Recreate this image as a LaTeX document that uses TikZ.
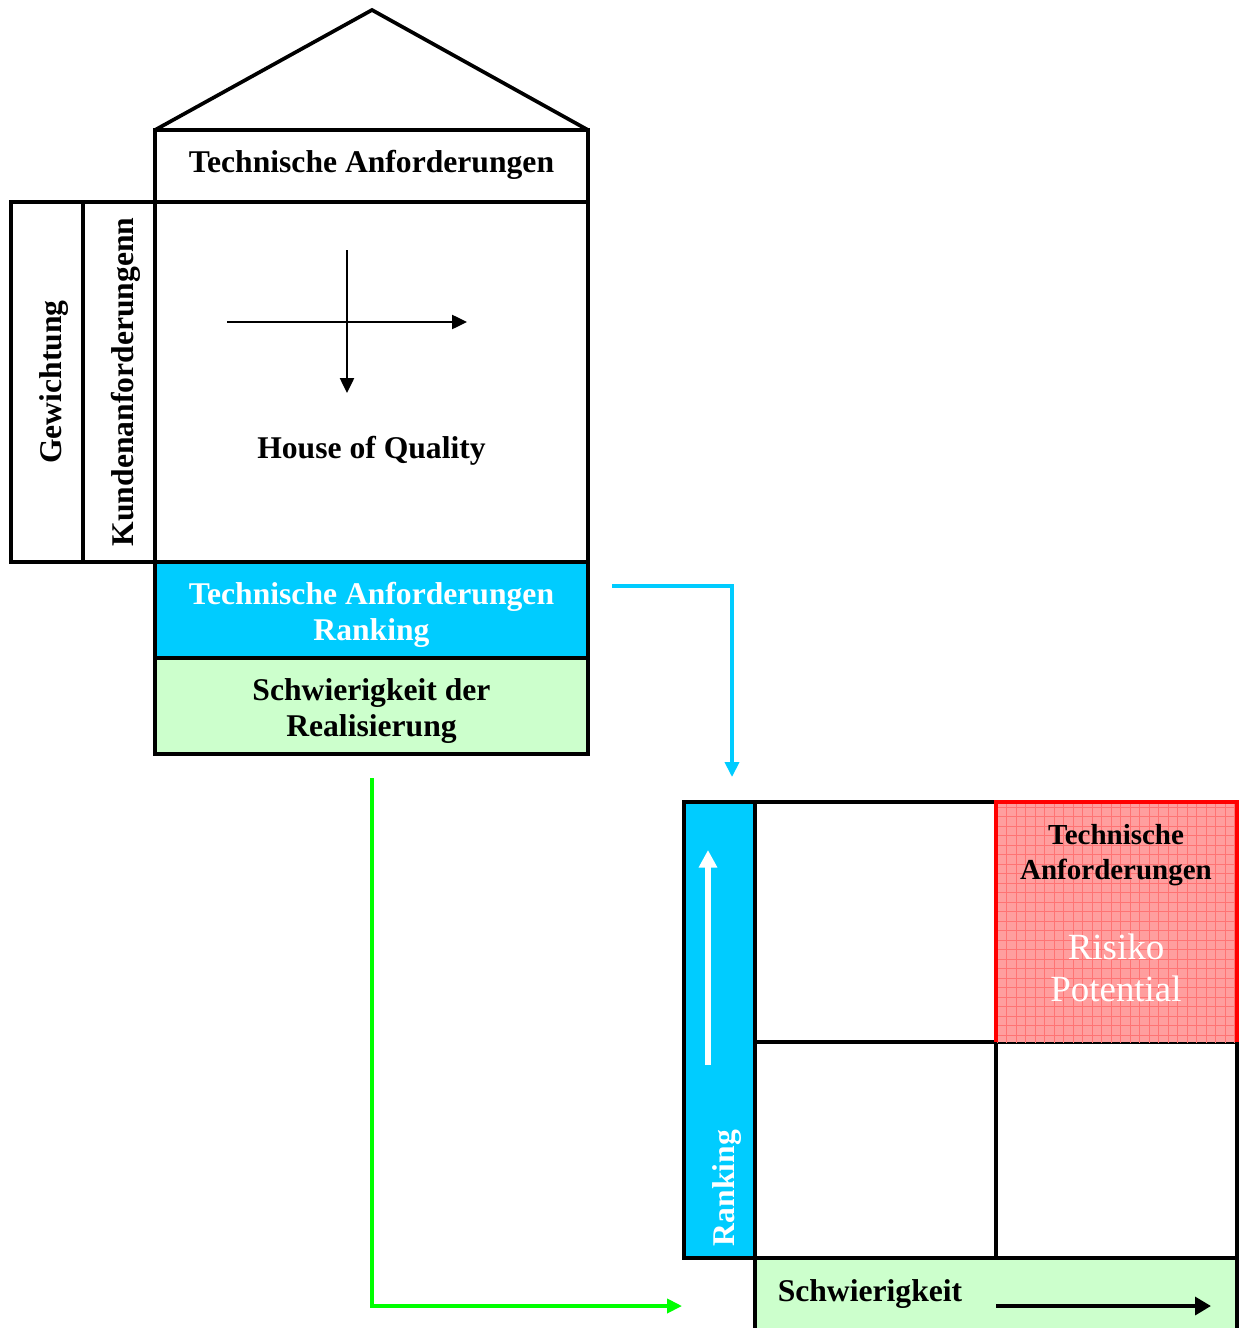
\documentclass[tikz,border=0pt]{standalone}
\usepackage{fontspec}
\setmainfont{Liberation Serif}
\usetikzlibrary{arrows.meta}
\definecolor{rankcyan}{RGB}{0,204,255}
\definecolor{hardgreen}{RGB}{204,255,204}
\definecolor{flowgreen}{RGB}{0,255,0}
\definecolor{riskred}{RGB}{255,0,0}

\begin{document}
\begin{tikzpicture}[x=0.02cm,y=-0.02cm,
  frame/.style={draw=black,line width=2.1pt},
  lbl/.style={font=\fontsize{18}{20.5}\selectfont\bfseries,align=center,inner sep=0pt},
  tip/.style={-{Triangle[length=8.5pt,width=8pt]}}]
\useasboundingbox (0,0) rectangle (1244,1328);

% Roof
\draw[line width=2.1pt] (155,130) -- (372,10) -- (588,130);

% Header
\draw[frame] (155,130) rectangle (588,202);
\node[lbl] (techreq) at (371.5,165) {Technische Anforderungen};

% Side columns
\draw[frame] (11,202) rectangle (83,562);
\node[lbl,rotate=90] (weight) at (54,382) {Gewichtung};
\draw[frame] (83,202) rectangle (155,562);
\node[lbl,rotate=90] (custreq) at (126,382) {Kundenanforderungenn};

% Main room
\draw[frame] (155,202) rectangle (588,562);
\coordinate (hl) at (227,322);
\coordinate (hr) at (467,322);
\coordinate (vt) at (347,250);
\coordinate (vb) at (347,393);
\draw[line width=1.2pt,tip] (hl) -- (hr);
\draw[line width=1.2pt,tip] (vt) -- (vb);
\node[lbl] (hoq) at (371.5,451) {House of Quality};

% Ranking
\draw[frame,fill=rankcyan] (155,562) rectangle (588,658);
\node[lbl,text=white] (ranking) at (371.5,615) {Technische Anforderungen\\Ranking};

% Difficulty
\draw[frame,fill=hardgreen] (155,658) rectangle (588,754);
\node[lbl] (difficulty) at (371.5,711) {Schwierigkeit der\\Realisierung};

% Flow arrows
\coordinate (cyanstart) at (612,586);
\coordinate (cyanend) at (732,777);
\draw[rankcyan,line width=2pt,tip] (cyanstart) -| (cyanend);
\coordinate (greenstart) at (372,778);
\coordinate (greenend) at (682,1306);
\draw[flowgreen,line width=2pt,tip] (greenstart) |- (greenend);

% Portfolio
\draw[frame,fill=rankcyan] (684,802) rectangle (755,1258);
\coordinate (rankbot) at (708,1065);
\coordinate (ranktop) at (708,850);
\draw[white,line width=3.2pt,-{Triangle[length=10pt,width=10pt]}] (rankbot) -- (ranktop);
\node[lbl,rotate=90,text=white] (rankaxis) at (727,1188) {Ranking};

\draw[frame] (755,802) rectangle (996,1042);
\draw[frame] (755,1042) rectangle (996,1258);
\draw[frame] (996,1042) rectangle (1237,1258);

% Risk cell
\fill[riskred!38] (996,802) rectangle (1237,1042);
\begin{scope}
\clip (996,802) rectangle (1237,1042);
\draw[riskred!55,line width=0.6pt,step=0.19cm] (990,795) grid (1240,1045);
\end{scope}
\draw[riskred,line width=2.1pt] (996,1042) -- (996,802) -- (1237,802) -- (1237,1042);
\node[font=\fontsize{16.5}{19.8}\selectfont\bfseries,align=center,inner sep=0pt] (risktitle) at (1116,855) {Technische\\Anforderungen};
\node[font=\fontsize{21}{23.8}\selectfont,align=center,inner sep=0pt,text=white] (riskpot) at (1116,968) {Risiko\\Potential};

% Difficulty axis
\draw[frame,fill=hardgreen] (755,1345) -- (755,1258) -- (1237,1258) -- (1237,1345);
\node[lbl] (hardaxis) at (870,1294) {Schwierigkeit};
\coordinate (hardl) at (996,1306);
\coordinate (hardr) at (1211,1306);
\draw[line width=2.8pt,-{Triangle[length=9pt,width=10pt]}] (hardl) -- (hardr);
\end{tikzpicture}
\end{document}
